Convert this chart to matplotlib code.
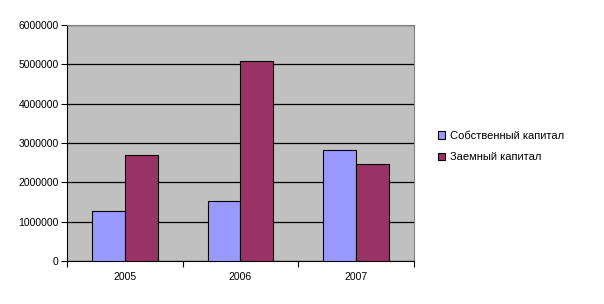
import numpy as np
import matplotlib.pyplot as plt
from matplotlib.patches import Patch

plt.rcParams['font.family'] = ['Liberation Sans', 'DejaVu Sans']

# Data
years = ['2005', '2006', '2007']
own_capital = [1270000, 1520000, 2820000]
borrowed_capital = [2690000, 5080000, 2460000]
series_names = ['Собственный капитал', 'Заемный капитал']
colors = ['#9999FF', '#993366']

fig = plt.figure(figsize=(6.04, 3.04), dpi=100)
ax = fig.add_axes([67 / 604, 43 / 304, 347 / 604, 236 / 304])
ax.set_facecolor('#C0C0C0')

x = np.arange(len(years))
w = 0.285
ax.bar(x - w / 2, own_capital, w, color=colors[0], edgecolor='black', linewidth=0.8, zorder=3)
ax.bar(x + w / 2, borrowed_capital, w, color=colors[1], edgecolor='black', linewidth=0.8, zorder=3)

ax.set_xlim(-0.5, 2.5)
ax.set_ylim(0, 6000000)
ax.set_yticks(np.arange(0, 6000001, 1000000))
ax.set_yticklabels([str(v) for v in range(0, 6000001, 1000000)], fontsize=7.5)
ax.yaxis.grid(True, color='black', linewidth=0.9, zorder=1)
ax.set_axisbelow(True)

ax.set_xticks(x)
ax.set_xticklabels(years, fontsize=7.5)
ax.set_xticks(np.arange(-0.5, 2.6, 1), minor=True)
ax.tick_params(axis='x', which='major', length=0, pad=8)
ax.tick_params(axis='x', which='minor', length=4, width=0.8, direction='out')
ax.tick_params(axis='y', length=4, width=0.8, direction='out', pad=2)

for s in ['top', 'right']:
    ax.spines[s].set_color('#808080')
    ax.spines[s].set_linewidth(0.8)
for s in ['left', 'bottom']:
    ax.spines[s].set_color('black')
    ax.spines[s].set_linewidth(0.8)

handles = [Patch(facecolor=c, edgecolor='black', linewidth=0.8) for c in colors]
fig.legend(handles, series_names, loc='upper left', bbox_to_anchor=(428 / 604, 1 - 121 / 304),
           frameon=False, fontsize=8, handlelength=0.65, handleheight=0.65,
           handletextpad=0.4, labelspacing=1.0)

fig.savefig('out.png', dpi=100)
